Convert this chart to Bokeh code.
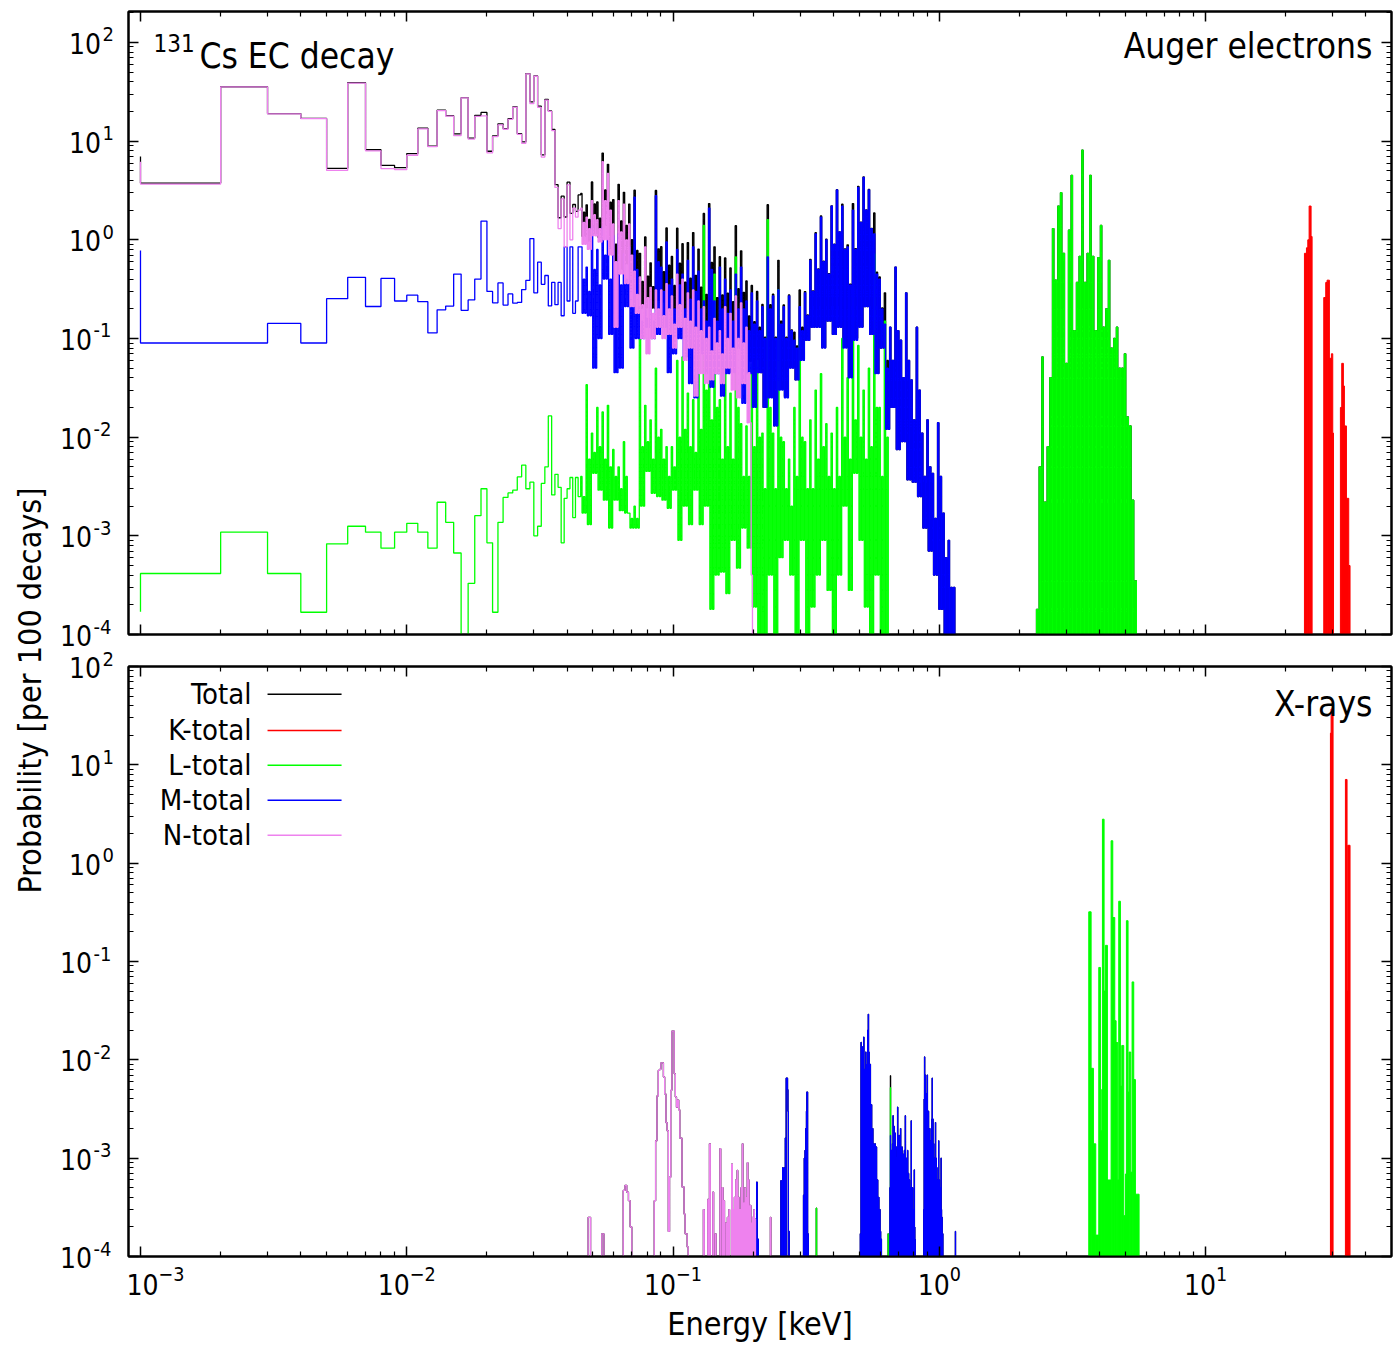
import numpy as np
from math import pi, log10
from bokeh.plotting import figure
from bokeh.layouts import row, column
from bokeh.models import (Range1d, LogAxis, FixedTicker, LogTickFormatter, Label, BoxAnnotation,
                          CustomJSTickFormatter)
from bokeh.embed import file_html
from bokeh.resources import INLINE

FONT = "DejaVu Sans Condensed"

# ======================= DATA (probability per 100 decays) =======================
# ---- Auger electrons: 1-eV bins from 1 eV to 45 eV ----
auger_low_edges_eV = list(range(1, 46))
auger_N_low = [3.67, 35.5, 18.9, 16.9, 5.05, 38.7, 7.97, 5.27, 5.14, 7.2,
               13.3, 8.8, 20.4, 17.9, 11.4, 27.4, 10.5, 17.8, 18.0, 7.6,
               11.1, 14.6, 13.2, 16.6, 22.0, 11.7, 9.5, 48.0, 24.0, 45.5,
               22.0, 6.9, 26.0, 20.0, 12.8, 3.4, 1.3, 2.6, 0.85, 3.6,
               1.0, 2.1, 1.7, 2.0]
auger_M_low = [0.09, 0.09, 0.142, 0.09, 0.253, 0.417, 0.211, 0.406, 0.24, 0.275,
               0.236, 0.114, 0.195, 0.213, 0.45, 0.193, 0.246, 0.4, 1.55, 0.3,
               0.23, 0.366, 0.218, 0.283, 0.228, 0.232, 0.313, 0.389, 1.03, 0.29,
               0.593, 0.354, 0.435, 0.214, 0.37, 0.22, 0.37, 0.17, 0.85, 0.24,
               0.85, 0.18, 0.24, 0.85]
auger_L_low = [4.15e-4, 1.09e-3, 4.15e-4, 1.68e-4, 8.3e-4, 1.25e-3, 1.09e-3, 7.5e-4, 1.09e-3, 1.34e-3,
               1.09e-3, 7.5e-4, 2.19e-3, 1.37e-3, 6.7e-4, 0.0, 3.3e-4, 1.6e-3, 3.0e-3, 8.5e-4,
               1.68e-4, 1.37e-3, 2.45e-3, 2.72e-3, 2.9e-3, 3.95e-3, 5.2e-3, 3.0e-3, 3.5e-3, 1.0e-3,
               1.25e-3, 3.4e-3, 5.0e-3, 0.0164, 2.6e-3, 4.2e-3, 3.1e-3, 8.5e-4, 2.4e-3, 3.0e-3,
               3.9e-3, 1.53e-3, 3.9e-3, 2.5e-3]
auger_start = {"N": 6.2, "M": 0.78, "L": 1.7e-4}   # value where each curve enters at 1 eV

# ---- Auger dense region: 0.02-decade cells from 45 eV; per cell: highest spike,
#      upper level of the dense band, and lowest trough ----
forest_start_keV = 0.045
forest_dlog = 0.02
forest_cells = 72
auger_N_hi = [2.1, 1.7, 2.5, 1.6, 6.2, 4.7, 1.45, 2.5, 2.3, 1.45, 0.48, 0.42, 0.85, 0.33, 0.31,
              0.31, 0.36, 0.27, 0.45, 0.4, 0.29, 0.31, 0.24, 0.21, 0.13, 0.16, 0.12, 0.21, 0.18,
              0.27, 0.23, 0.13, 4e-4]
auger_N_mid = [1.5, 1.3, 1.8, 1.3, 2.5, 2.0, 0.6, 1.2, 1.0, 0.7, 0.28, 0.22, 0.26, 0.18, 0.2,
               0.17, 0.2, 0.14, 0.22, 0.16, 0.15, 0.13, 0.12, 0.1, 0.075, 0.09, 0.07, 0.1, 0.08,
               0.1, 0.09, 0.045, 0.0]
auger_N_lo = [0.9, 0.8, 1.1, 0.95, 1.0, 0.7, 0.13, 0.45, 0.36, 0.21, 0.18, 0.1, 0.07, 0.1, 0.13,
              0.1, 0.11, 0.08, 0.13, 0.06, 0.08, 0.026, 0.044, 0.035, 0.038, 0.044, 0.035, 0.05,
              0.03, 0.025, 0.035, 0.014, 0.0]
auger_M_hi = [0.85, 0.53, 1.35, 0.8, 1.35, 1.1, 1.1, 1.15, 0.72, 0.85,
              2.7, 0.21, 0.2, 0.24, 2.8, 0.53, 0.95, 0.4, 0.8, 0.45,
              0.62, 0.85, 0.48, 0.24, 2.1, 0.24, 0.53, 0.4, 0.31, 0.45,
              0.53, 0.24, 0.29, 0.24, 0.21, 0.67, 0.27, 0.31, 0.21, 0.27,
              0.096, 0.21, 0.29, 0.62, 1.15, 1.7, 1.0, 2.2, 3.2, 2.2,
              0.85, 2.0, 3.4, 4.3, 3.2, 1.15, 0.4, 0.14, 0.13, 0.53,
              0.096, 0.29, 0.038, 0.13, 0.011, 0.015, 0.0043, 0.014, 0.0017, 9e-4,
              3e-4]
auger_M_mid = [0.4, 0.3, 0.5, 0.35, 0.7, 0.4, 0.3, 0.35, 0.4, 0.3,
               0.5, 0.15, 0.16, 0.15, 0.6, 0.3, 0.35, 0.2, 0.35, 0.2,
               0.25, 0.3, 0.2, 0.15, 0.5, 0.15, 0.2, 0.18, 0.15, 0.2,
               0.2, 0.12, 0.14, 0.12, 0.1, 0.2, 0.1, 0.14, 0.1, 0.12,
               0.08, 0.12, 0.17, 0.3, 0.5, 0.6, 0.45, 0.9, 1.2, 0.8,
               0.35, 0.8, 1.5, 2.0, 1.3, 0.45, 0.2, 0.05, 0.06, 0.12,
               0.04, 0.06, 0.015, 0.03, 0.004, 0.005, 0.0015, 0.004, 6e-4, 3e-4,
               0.0]
auger_M_lo = [0.18, 0.17, 0.05, 0.1, 0.4, 0.11, 0.045, 0.05, 0.21, 0.08,
              0.1, 0.1, 0.13, 0.1, 0.11, 0.13, 0.045, 0.07, 0.1, 0.065,
              0.035, 0.025, 0.07, 0.044, 0.032, 0.044, 0.026, 0.044, 0.045, 0.08,
              0.022, 0.044, 0.02, 0.045, 0.02, 0.025, 0.013, 0.03, 0.025, 0.05,
              0.038, 0.06, 0.096, 0.13, 0.13, 0.08, 0.15, 0.11, 0.13, 0.08,
              0.04, 0.096, 0.13, 0.21, 0.11, 0.044, 0.08, 0.012, 0.02, 0.0075,
              0.009, 0.0037, 0.0035, 0.0025, 0.0012, 7e-4, 4e-4, 1.8e-4, 0.0, 0.0,
              0.0]
auger_L_hi = [0.004, 0.034, 0.011, 0.02, 0.018, 0.021, 0.0075, 0.005, 0.009, 0.0017,
              0.002, 0.1, 0.021, 0.015, 0.05, 0.012, 0.008, 0.008, 0.06, 0.065,
              0.028, 0.024, 0.085, 1.4, 0.1, 0.45, 0.024, 0.044, 0.028, 0.67,
              0.0137, 0.013, 0.055, 0.06, 0.011, 1.6, 0.011, 0.31, 0.009, 0.006,
              0.02, 0.1, 0.009, 0.015, 0.03, 0.044, 0.0137, 0.011, 0.02, 0.1,
              0.04, 0.33, 0.085, 0.03, 0.05, 0.72, 0.02, 0.15]
auger_L_mid = [0.0025, 0.006, 0.007, 0.008, 0.006, 0.005, 0.004, 0.003, 0.004, 0.0015,
               0.0015, 0.008, 0.009, 0.006, 0.01, 0.006, 0.004, 0.005, 0.01, 0.012,
               0.008, 0.007, 0.012, 0.03, 0.015, 0.02, 0.006, 0.008, 0.006, 0.02,
               0.004, 0.004, 0.008, 0.01, 0.003, 0.02, 0.003, 0.01, 0.003, 0.002,
               0.004, 0.01, 0.003, 0.003, 0.006, 0.008, 0.004, 0.003, 0.004, 0.01,
               0.006, 0.015, 0.01, 0.006, 0.008, 0.02, 0.004, 0.01]
auger_L_lo = [0.0017, 0.0013, 0.0043, 0.0029, 0.0023, 0.0012, 0.0023, 0.0018, 0.0017, 0.0012,
              0.0012, 0.002, 0.0045, 0.0027, 0.0025, 0.0023, 0.0019, 0.0029, 9e-4, 0.002,
              0.0013, 0.0029, 0.0013, 0.002, 1.8e-4, 4e-4, 4.3e-4, 2.6e-4, 9e-4, 4.7e-4,
              0.0012, 7.5e-4, 1.9e-4, 0.0, 0.0, 4e-4, 0.0, 6e-4, 9e-4, 4e-4,
              0.0, 9e-4, 0.0, 1.9e-4, 4e-4, 9e-4, 2.8e-4, 0.0, 4e-4, 0.002,
              2.8e-4, 0.0043, 9e-4, 1.9e-4, 0.0, 4e-4, 0.0, 0.0]

# ---- Auger L group 2.3-5.6 keV: 0.01-decade cells (peaks, zero troughs) ----
auger_L2_start_keV = 2.317
auger_L2_dlog = 0.01
auger_L2_hi = [1.8e-4, 0.005, 0.065, 0.0022, 0.008, 0.04, 1.3, 0.39, 2.2, 3.0,
               0.73, 0.056, 1.25, 4.5, 0.12, 0.37, 0.68, 8.1, 0.37, 0.73,
               4.5, 0.68, 0.12, 0.66, 1.4, 0.13, 0.2, 0.62, 0.08, 0.1,
               0.13, 0.05, 0.05, 0.07, 0.016, 0.013, 0.0023, 3.5e-4]

# ---- Auger K lines (keV) ----
auger_K_left = [23.50, 23.91, 24.19, 24.47, 24.89, 27.77, 28.25, 28.58, 29.16, 29.67, 30.02,
                32.07, 32.44, 32.91, 33.20, 33.79, 34.47]
auger_K_right = [23.91, 24.19, 24.47, 24.89, 25.11, 28.25, 28.58, 29.16, 29.67, 30.02, 30.20,
                 32.44, 32.91, 33.20, 33.79, 34.47, 34.86]
auger_K_val = [0.73, 0.83, 1.0, 2.2, 1.08, 0.26, 0.37, 0.39, 0.063, 0.07, 0.011,
               0.02, 0.056, 0.033, 0.013, 0.0024, 5e-4]

# ---- X-rays: 1-eV bins (bin start in eV) ----
xray_N_eV = [48, 54, 65, 66, 67, 68, 69,
             85, 86, 87, 88, 89, 90, 91, 92, 93, 94, 95, 96, 97, 98, 99, 100, 101, 102, 103,
             104, 105, 106, 107, 108, 109, 110, 111, 112, 113,
             130, 135, 137, 141, 144, 150, 153, 155, 158, 160,
             162, 166, 168, 170, 172, 174, 176, 178, 180, 182,
             184, 186, 188, 190, 192, 194, 195, 197, 199, 201,
             203, 232]
xray_N_val = [2.5e-4, 1.7e-4, 4.7e-4, 5.3e-4, 4.5e-4, 3.7e-4, 2.0e-4,
              3.7e-4, 1.5e-3, 4.3e-3, 7.8e-3, 8.0e-3, 9.3e-3, 9.3e-3, 6.7e-3, 4.5e-3, 2.3e-3, 1.9e-3,
              1.8e-4, 6.4e-4, 4.9e-3, 0.0196, 0.0196, 7.2e-3, 4.2e-3, 3.3e-3,
              3.9e-3, 3.1e-3, 1.6e-3, 1.6e-3, 5.1e-4, 5.1e-4, 2.7e-4, 1.7e-4, 1.7e-4, 1.25e-4,
              3.0e-4, 3.8e-4, 1.4e-3, 4.5e-4, 1.7e-4, 1.25e-3, 5e-4, 3.7e-4, 2.2e-4, 2.5e-4,
              3e-4, 8.7e-4, 3e-4, 4e-4, 6e-4, 7.5e-4, 4e-4, 3e-4, 5e-4, 1.4e-3,
              3.5e-4, 5e-4, 4e-4, 9e-4, 6e-4, 3e-4, 3.3e-4, 2.2e-4, 2.5e-4, 3e-4,
              2.4e-4, 2.5e-4]
xray_M_eV = [206, 208,
             254, 258, 262, 264, 266, 267, 268, 269, 270, 272,
             309, 311, 313, 315, 317, 318, 319, 321,
             505, 508, 511, 514, 517, 520, 523, 526, 529, 532, 535, 538, 541, 544, 547, 550,
             553, 556, 559, 562, 565, 568, 571, 574, 577, 580, 583, 586, 589, 592, 595, 598,
             601, 605,
             652, 655, 658, 661, 664, 667, 670, 673, 676, 679, 682, 685, 688, 691, 694, 697,
             700, 703, 706, 709, 712, 715, 718, 721, 724, 727, 730, 733, 736, 739, 742, 745,
             748, 751, 754, 757, 760, 763, 766, 769, 772, 775, 778, 781, 784, 787, 790, 793,
             796, 799, 802, 805, 808, 811,
             874, 877, 880, 883, 886, 889, 892, 895, 898, 901, 904, 907, 910, 913, 916, 919,
             922, 925, 928, 931, 934, 937, 940, 943, 946, 949, 952, 955, 958, 961, 964, 967,
             970, 973, 976, 979, 982, 985, 988, 991, 994, 997, 1000, 1003, 1006, 1009, 1012,
             1015, 1018, 1021, 1024, 1027, 1030, 1149]
xray_M_val = [5.7e-4, 1.5e-4,
              5.9e-4, 8e-4, 8e-4, 1.6e-3, 6.5e-3, 6.5e-3, 6.5e-3, 5e-3, 3e-3, 1.8e-4,
              4.2e-4, 1e-3, 1.2e-3, 2e-3, 3e-3, 4.7e-3, 4.7e-3, 1.7e-4,
              1.7e-4, 0.015, 0.004, 0.0135, 0.006, 0.017, 0.008, 0.0035, 0.012, 0.006, 0.009, 0.02,
              0.029, 0.012, 0.006, 0.009,
              0.003, 0.0035, 0.0015, 0.002, 9e-4, 0.0014, 6e-4, 0.0014, 5e-4, 0.0013, 4e-4, 6e-4,
              3e-4, 4e-4, 2.5e-4, 3e-4,
              1.8e-4, 1.5e-4,
              5e-4, 1.7e-3, 8e-4, 1.2e-3, 6e-4, 1.4e-3, 2.7e-3, 1e-3, 2.1e-3, 7e-4, 1.8e-3, 9e-4,
              1.3e-3, 6e-4, 1e-3, 3.3e-3,
              1.5e-3, 7e-4, 1.7e-3, 8e-4, 1.2e-3, 2e-3, 9e-4, 6e-4, 1.3e-3, 5e-4, 1.1e-3, 4e-4,
              8e-4, 1.2e-3, 5e-4, 2.7e-3,
              7e-4, 1e-3, 4e-4, 9e-4, 1.2e-3, 5e-4, 7e-4, 3e-4, 6e-4, 3e-4, 5e-4, 3e-4,
              2.4e-3, 4e-4, 3e-4, 5e-4,
              2.5e-4, 3e-4, 2e-4, 7.6e-4, 2e-4, 1.5e-4,
              3e-4, 0.004, 0.0107, 0.005, 0.007, 0.003, 0.0045, 0.002, 0.0035, 0.007, 0.0025,
              0.0015, 0.003, 0.001, 0.002, 8e-4,
              0.0015, 7e-4, 0.0012, 0.002, 9e-4, 0.0025, 0.0065, 0.0012, 0.0025, 8e-4, 0.0014,
              6e-4, 0.001, 5e-4, 9e-4, 0.0023,
              6e-4, 0.001, 4e-4, 8e-4, 4e-4, 6e-4, 3e-4, 5e-4, 0.0015, 4e-4, 6e-4, 3e-4, 5e-4,
              2.5e-4, 4e-4,
              0.001, 3e-4, 2e-4, 2.5e-4, 1.5e-4, 1.7e-4, 1.8e-4]
xray_L_eV = [345, 642, 655]
xray_L_val = [3.1e-4, 1.7e-4, 5.2e-3]
# L x-ray group 3.6-5.6 keV (contiguous bin edges, keV)
xray_L_edges = [3.640, 3.715, 3.790, 3.867, 3.969, 4.027, 4.073, 4.097, 4.156, 4.205,
                4.277, 4.416, 4.480, 4.558, 4.611, 4.677, 4.717, 4.786, 4.842, 4.926,
                4.997, 5.040, 5.113, 5.158, 5.234, 5.294, 5.371, 5.449, 5.625]
xray_L_blocks = [0.32, 0.0082, 0.0014, 1.65e-4, 0.087, 0.0019, 0.005, 2.8, 0.05, 0.146,
                 6e-4, 1.69, 0.28, 0.025, 0.015, 6e-4, 0.41, 0.0054, 0.014, 2.6e-4,
                 6.9e-4, 0.26, 0.0047, 0.012, 7.2e-4, 0.062, 0.0063, 4.3e-4]
# K x-ray lines (keV)
xray_K_left = [29.42, 29.59, 33.49, 33.97, 34.17]
xray_K_right = [29.59, 30.10, 33.97, 34.17, 34.86]
xray_K_val = [21.0, 37.0, 7.1, 0.05, 1.52]

# axis ticks and tick labels
x_major = [1e-3, 1e-2, 1e-1, 1e0, 1e1]
x_minor = [m * 10.0 ** k for k in range(-3, 2) for m in range(2, 10)]
y_major = [1e-4, 1e-3, 1e-2, 1e-1, 1e0, 1e1, 1e2]
y_minor = [m * 10.0 ** k for k in range(-4, 3) for m in range(2, 10)]
y_tick_exponents = ["-4", "-3", "-2", "-1", "0", "1", "2"]

legend_names = ["Total", "K-total", "L-total", "M-total", "N-total"]
COL = {"T": "black", "K": "#ff0000", "L": "#00ff00", "M": "#0000ff", "N": "#ee82ee"}
legend_colors = [COL["T"], COL["K"], COL["L"], COL["M"], COL["N"]]

assert len(auger_N_low) == len(auger_M_low) == len(auger_L_low) == 44
assert len(auger_N_hi) == len(auger_N_mid) == len(auger_N_lo)
assert len(auger_M_hi) == len(auger_M_mid) == len(auger_M_lo)
assert len(auger_L_hi) == len(auger_L_mid) == len(auger_L_lo)
assert len(xray_N_eV) == len(xray_N_val) and len(xray_M_eV) == len(xray_M_val)
assert len(xray_L_edges) == len(xray_L_blocks) + 1

# ======================= helpers =======================
FLOOR = 1e-7
LW = 1.3


def step_xy(edges, vals, start=None):
    xs = [edges[0]]
    ys = [start if start else FLOOR]
    for i, v in enumerate(vals):
        v = v if v > 0 else FLOOR
        xs += [edges[i], edges[i + 1]]
        ys += [v, v]
    xs.append(edges[-1])
    ys.append(FLOOR)
    return xs, ys


def cell_subedges(start, dlog, n, parts):
    return list(start * 10.0 ** (dlog / parts * np.arange(n * parts + 1)))


def cell_pattern(hi, mid, lo, n):
    # each cell drawn as: spike, trough, band level, trough
    pad = lambda a: list(a) + [0.0] * (n - len(a))
    out = []
    for h, m, l in zip(pad(hi), pad(mid), pad(lo)):
        out += [h, l, m, l]
    return out


def ev_series(ev_dict):
    keys = sorted(ev_dict)
    xs, ys = [], []
    i = 0
    while i < len(keys):
        j = i
        while j + 1 < len(keys) and keys[j + 1] == keys[j] + 1:
            j += 1
        edges = [k / 1000.0 for k in range(keys[i], keys[j] + 2)]
        vals = [ev_dict[k] for k in range(keys[i], keys[j] + 1)]
        sx, sy = step_xy(edges, vals)
        xs += sx
        ys += sy
        i = j + 1
    return xs, ys


# ======================= build series =======================
sub = cell_subedges(forest_start_keV, forest_dlog, forest_cells, 4)
edges_top = [e / 1000.0 for e in auger_low_edges_eV] + sub[1:]
vN = auger_N_low + cell_pattern(auger_N_hi, auger_N_mid, auger_N_lo, forest_cells)
vM = auger_M_low + cell_pattern(auger_M_hi, auger_M_mid, auger_M_lo, forest_cells)
vL = auger_L_low + cell_pattern(auger_L_hi, auger_L_mid, auger_L_lo, forest_cells)
vT = [a + b + c for a, b, c in zip(vN, vM, vL)]
nL2 = len(auger_L2_hi)
subL2 = cell_subedges(auger_L2_start_keV, auger_L2_dlog, nL2, 2)
vL2 = []
for h in auger_L2_hi:
    vL2 += [h, 0.0]

top_N = step_xy(edges_top, vN, auger_start["N"])
top_M = step_xy(edges_top, vM, auger_start["M"])
lx, ly = step_xy(edges_top, vL, auger_start["L"])
l2x, l2y = step_xy(subL2, vL2)
top_L = (lx + l2x, ly + l2y)
tx, ty = step_xy(edges_top, vT, sum(auger_start.values()))
top_T = (tx + l2x, ty + l2y)

dN = dict(zip(xray_N_eV, xray_N_val))
dM = dict(zip(xray_M_eV, xray_M_val))
dL = dict(zip(xray_L_eV, xray_L_val))
dT = {}
for d in (dN, dM, dL):
    for k, v in d.items():
        dT[k] = dT.get(k, 0.0) + v
bot_N = ev_series(dN)
bot_M = ev_series(dM)
bot_L = ev_series(dL)
bot_T = ev_series(dT)

# ======================= layout geometry =======================
TOTAL_H = 1345
W_LABEL = 126                 # strip holding the y label and y tick labels
W = 1393 - W_LABEL
H1 = 650
H2 = TOTAL_H - H1
P1_TOP, P1_BOT = 11, 634      # frame edges (page px)
P2_TOP, P2_BOT = 666, 1256
Y1_MAX = 10 ** 2.314
Y2_MAX = 1e2
XR = (10 ** -3.045, 10 ** 1.698)


def style_axis(ax, major, minor, show):
    ax.ticker = FixedTicker(ticks=major, minor_ticks=minor)
    ax.axis_line_color = "black"
    ax.axis_line_width = 2
    ax.major_tick_in = 10
    ax.major_tick_out = 0
    ax.minor_tick_in = 5
    ax.minor_tick_out = 0
    ax.major_tick_line_color = "black"
    ax.minor_tick_line_color = "black"
    ax.major_tick_line_width = 1.5
    ax.minor_tick_line_width = 1.2
    if show:
        ax.formatter = LogTickFormatter()
        ax.major_label_text_font = FONT
        ax.major_label_text_font_size = "28px"
        ax.major_label_text_color = "black"
        ax.major_label_standoff = 8
    else:
        ax.formatter = CustomJSTickFormatter(code="return ''")
        ax.major_label_text_font_size = "1px"
        ax.major_label_standoff = 0


def make_panel(height, ymax, b_top, b_bottom, xlabels):
    p = figure(width=W, height=height, x_axis_type="log", y_axis_type="log",
               x_range=Range1d(*XR), y_range=Range1d(1e-4, ymax), title=None,
               output_backend="svg", toolbar_location=None,
               min_border_left=128 - W_LABEL, min_border_right=2,
               min_border_top=b_top, min_border_bottom=b_bottom)
    p.grid.visible = False
    p.outline_line_color = "black"
    p.outline_line_width = 2
    p.background_fill_color = "white"
    p.border_fill_color = "white"
    p.add_layout(LogAxis(), "above")
    p.add_layout(LogAxis(), "right")
    style_axis(p.below[0], x_major, x_minor, xlabels)
    style_axis(p.above[0], x_major, x_minor, False)
    style_axis(p.left[0], y_major, y_minor, False)
    style_axis(p.right[0], y_major, y_minor, False)
    return p


p1 = make_panel(H1, Y1_MAX, P1_TOP, H1 - P1_BOT, False)
p2 = make_panel(H2, Y2_MAX, P2_TOP - H1, TOTAL_H - P2_BOT, True)
ax = p2.below[0]
ax.axis_label = "Energy [keV]"
ax.axis_label_text_font = FONT
ax.axis_label_text_font_size = "32px"
ax.axis_label_text_font_style = "normal"
ax.axis_label_text_color = "black"
ax.axis_label_standoff = 7

# ---- top panel: Auger electrons ----
p1.line(*top_T, color=COL["T"], line_width=LW)
p1.quad(left=auger_K_left, right=auger_K_right, bottom=FLOOR, top=auger_K_val,
        fill_color=COL["K"], line_color=COL["K"], line_width=1)
p1.line(*top_L, color=COL["L"], line_width=LW)
p1.line(*top_M, color=COL["M"], line_width=LW)
p1.line(*top_N, color=COL["N"], line_width=LW)

p1.add_layout(Label(x=1.119e-3, y=99.0, text="131", text_font=FONT, text_font_size="24px",
                    text_align="left", text_baseline="alphabetic", text_color="black"))
p1.add_layout(Label(x=1.665e-3, y=72.8, text="Cs EC decay", text_font=FONT, text_font_size="35px",
                    text_align="left", text_baseline="alphabetic", text_color="black"))
p1.add_layout(Label(x=42.3, y=91.9, text="Auger electrons", text_font=FONT, text_font_size="35px",
                    text_align="right", text_baseline="alphabetic", text_color="black"))

# ---- bottom panel: X-rays ----
p2.line(*bot_T, color=COL["T"], line_width=LW)
p2.quad(left=xray_K_left, right=xray_K_right, bottom=FLOOR, top=xray_K_val,
        fill_color=COL["K"], line_color=COL["K"], line_width=1)
p2.quad(left=xray_L_edges[:-1], right=xray_L_edges[1:], bottom=FLOOR, top=xray_L_blocks,
        fill_color=COL["L"], line_color=COL["L"], line_width=1)
p2.line(*bot_L, color=COL["L"], line_width=LW)
p2.line(*bot_M, color=COL["M"], line_width=LW)
p2.line(*bot_N, color=COL["N"], line_width=LW)

p2.add_layout(Label(x=42.3, y=41.7, text="X-rays", text_font=FONT, text_font_size="35px",
                    text_align="right", text_baseline="alphabetic", text_color="black"))

leg_y = [52.1, 22.4, 9.88, 4.36, 1.92]
for name, c, yv in zip(legend_names, legend_colors, leg_y):
    p2.add_layout(Label(x=2.61e-3, y=yv, text=name, text_font=FONT, text_font_size="29px",
                        text_align="right", text_baseline="middle", text_color="black"))
    p2.add_layout(BoxAnnotation(left=3.0e-3, right=5.69e-3, bottom=yv / 1.018, top=yv * 1.018,
                                fill_color=c, fill_alpha=1.0, line_color=None))

# ---- left strip: shared y label and the y tick labels of both panels ----
pl = figure(width=W_LABEL, height=TOTAL_H, x_range=Range1d(0, W_LABEL), y_range=Range1d(0, TOTAL_H),
            x_axis_type=None, y_axis_type=None, title=None, output_backend="svg",
            toolbar_location=None, min_border=0)
pl.outline_line_color = None
pl.background_fill_color = "white"
pl.border_fill_color = "white"
pl.add_layout(Label(x=29, y=TOTAL_H - 690, text="Probability [per 100 decays]", angle=pi / 2,
                    text_align="center", text_baseline="middle", text_font=FONT,
                    text_font_size="32px", text_color="black"))

for top, bot, ymax in ((P1_TOP, P1_BOT, Y1_MAX), (P2_TOP, P2_BOT, Y2_MAX)):
    px_per_dec = (bot - top) / (log10(ymax) + 4.0)
    for t, ex in zip(y_major, y_tick_exponents):
        ypix = bot - (log10(t) + 4.0) * px_per_dec
        yy = TOTAL_H - ypix
        ex_left = 93 if ex.startswith("-") else 102
        pl.add_layout(Label(x=ex_left - 1.5, y=yy - 1, text="10", text_font=FONT,
                            text_font_size="28px", text_align="right", text_baseline="middle",
                            text_color="black"))
        pl.add_layout(Label(x=ex_left, y=yy + 8, text=ex, text_font=FONT,
                            text_font_size="20px", text_align="left", text_baseline="middle",
                            text_color="black"))

layout = row(pl, column(p1, p2))
open("out.html", "w").write(file_html(layout, INLINE))
